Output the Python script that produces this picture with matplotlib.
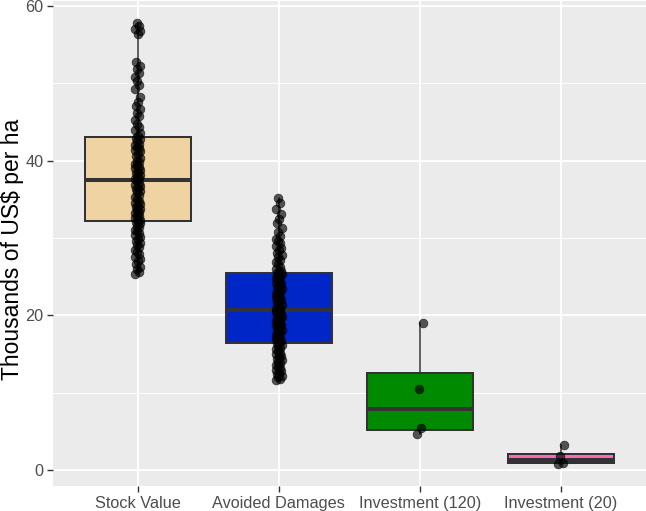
import numpy as np
import matplotlib
matplotlib.use("Agg")
import matplotlib.pyplot as plt

categories = ["Stock Value", "Avoided Damages", "Investment (120)", "Investment (20)"]
fill_colors = ["#EFD3A3", "#0026C8", "#008A00", "#FF69B4"]

stock_value = [
    25.3, 25.6, 26.0, 26.3, 26.7, 27.0, 27.3, 27.6, 27.9, 28.2, 28.5, 28.8, 29.1, 29.4, 29.6,
    29.9, 30.1, 30.4, 30.6, 30.9, 31.1, 31.4, 31.6, 31.9, 32.1,
    32.2, 32.4, 32.6, 32.8, 33.0, 33.2, 33.4, 33.6, 33.8, 34.0, 34.2, 34.4, 34.6, 34.8, 35.0,
    35.3, 35.6, 35.9, 36.1, 36.3, 36.5, 36.7, 36.9, 37.1, 37.4,
    37.6, 37.8, 38.0, 38.2, 38.4, 38.6, 38.8, 39.0, 39.2, 39.4, 39.6, 39.8, 40.0, 40.3, 40.6,
    40.9, 41.2, 41.4, 41.6, 41.8, 42.0, 42.2, 42.5, 42.8, 43.0,
    43.2, 43.6, 44.0, 44.4, 44.8, 45.3, 45.8, 46.2, 46.7, 47.1, 47.6, 48.2, 49.3, 49.8, 50.3,
    50.8, 51.4, 51.9, 52.3, 52.8, 56.4, 56.8, 57.0, 57.4, 57.8,
]
avoided_damages = [
    11.6, 11.8, 12.0, 12.2, 12.4, 12.6, 12.8, 13.0, 13.2, 13.4, 13.6, 13.8, 14.0, 14.2, 14.4,
    14.6, 14.8, 15.0, 15.2, 15.4, 15.6, 15.8, 16.0, 16.2, 16.4,
    16.5, 16.7, 16.9, 17.1, 17.3, 17.5, 17.7, 17.9, 18.1, 18.3, 18.5, 18.7, 18.8, 19.0, 19.2,
    19.3, 19.5, 19.6, 19.8, 19.9, 20.1, 20.2, 20.4, 20.5, 20.6,
    20.8, 21.0, 21.2, 21.4, 21.6, 21.8, 22.0, 22.2, 22.4, 22.6, 22.8, 23.0, 23.2, 23.4, 23.6,
    23.8, 24.0, 24.2, 24.4, 24.6, 24.8, 25.0, 25.2, 25.3, 25.5,
    25.6, 25.8, 26.0, 26.3, 26.6, 26.9, 27.2, 27.5, 27.8, 28.1, 28.4, 28.7, 29.0, 29.3, 29.6,
    29.9, 30.3, 30.8, 31.3, 31.9, 32.5, 33.1, 33.8, 34.5, 35.2,
]
investment_120 = [4.65, 5.45, 10.45, 19.05]
investment_20 = [0.8, 0.9, 1.8, 3.2]

series = [stock_value, avoided_damages, investment_120, investment_20]
y_ticks = [0, 20, 40, 60]
y_label = "Thousands of US$ per ha"

plt.rcParams["font.family"] = ["Liberation Sans", "DejaVu Sans"]

W, H, DPI = 646, 511, 100
fig = plt.figure(figsize=(W / DPI, H / DPI), dpi=DPI)
ax = fig.add_axes([53 / W, 25 / H, (645.5 - 53) / W, (510 - 25) / H])
ax.set_facecolor("#EBEBEB")
for s in ax.spines.values():
    s.set_visible(False)

positions = np.arange(1, len(categories) + 1)
bp = ax.boxplot(series, positions=positions, widths=0.75, whis=1.5, patch_artist=True,
                showfliers=False, manage_ticks=False, zorder=2,
                boxprops=dict(edgecolor="#333333", linewidth=1.45),
                medianprops=dict(color="#333333", linewidth=2.9),
                whiskerprops=dict(color="#333333", linewidth=1.1),
                capprops=dict(linewidth=0))
for patch, c in zip(bp["boxes"], fill_colors):
    patch.set_facecolor(c)

jitter_pattern = np.array([-0.018, 0.012, -0.006, 0.02, -0.013, 0.004, 0.016, -0.021, 0.008, -0.002])
for pos, vals in zip(positions, series):
    vals = np.asarray(vals)
    offs = np.resize(jitter_pattern, len(vals))
    ax.scatter(pos + offs, vals, s=40, color="black", alpha=0.65, linewidths=0.5,
               edgecolors="black", zorder=3)

ax.set_xlim(0.4, 4.6)
ax.set_ylim(-2.05, 60.65)
ax.set_yticks(y_ticks)
ax.set_yticks([10, 30, 50], minor=True)
ax.set_xticks(positions)
ax.set_xticklabels(categories)
ax.grid(which="major", color="white", linewidth=1.3, zorder=0)
ax.grid(which="minor", axis="y", color="white", linewidth=0.65, zorder=0)
ax.set_axisbelow(True)
ax.tick_params(axis="both", which="major", length=4, width=1.0, color="#333333",
               labelsize=11.7, labelcolor="#4D4D4D", pad=3)
ax.tick_params(axis="y", which="minor", length=0)
ax.set_ylabel(y_label, fontsize=16.5, color="black", va="center")
ax.yaxis.set_label_coords((13 - 53) / 592.5, (486 - 249) / 485)

fig.savefig("out.png", dpi=DPI)
